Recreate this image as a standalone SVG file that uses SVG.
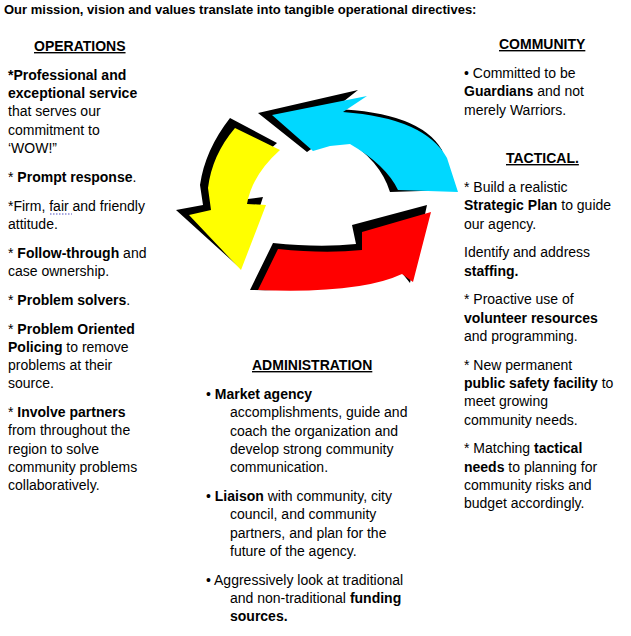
<svg xmlns="http://www.w3.org/2000/svg" width="631" height="636" viewBox="0 0 631 636">
<style>
text{font-family:"Liberation Sans",Arial,sans-serif;font-size:14px;fill:#000}
.h{font-weight:bold;text-decoration:underline}
.b{font-weight:bold}
.sh{fill:#000}
</style>
<rect width="631" height="636" fill="#fff"/>
<text x="4" y="14" class="b" style="font-size:13px">Our mission, vision and values translate into tangible operational directives:</text>
<g id="arrows">
<g id="cyan">
<path class="sh" d="M258,113 L358,90 L334,109 Q420,112 442,150 L452,190 L390,192 Q380,160 345,139 L324,140 L307,152 Z"/>
<path fill="#00d8ff" d="M272,115 L367,96 L343,112 Q425,118 447,158 L458,192 L398,190 Q386,165 350,144 L330,146 L313,151 Z"/>
</g>
<g id="yellow">
<path class="sh" d="M230,118 Q205,150 200,185 L203,205 L176,210 L240,268 L263,197 L240,200 Q245,170 277,143 Z"/>
<path fill="#ff0" d="M235,128 Q212,155 208,188 L211,210 L189,215 L241,270 L266,205 L247,204 Q252,175 280,150 Z"/>
</g>
<g id="red">
<path class="sh" d="M273,243 Q320,248 356,244 L352,225 L427,205 L410,283 L398,268 Q350,292 250,290 Z"/>
<path fill="#f00" d="M278,249 Q325,254 362,250 L362,232 L431,212 L413,282 L402,274 Q360,294 258,290 Z"/>
</g>
</g>
<g id="operations">
<text x="34" y="51" class="h">OPERATIONS</text>
<text x="8" y="80" class="b">*Professional and</text>
<text x="8" y="98" class="b">exceptional service</text>
<text x="8" y="116">that serves our</text>
<text x="8" y="135">commitment to</text>
<text x="8" y="153">‘WOW!”</text>
<text x="8" y="182">* <tspan class="b">Prompt response</tspan>.</text>
<text x="8" y="211">*Firm, fair and friendly</text>
<line x1="50" y1="214" x2="72" y2="214" stroke="#5050c0" stroke-width="1.2" stroke-dasharray="1.5,1.5"/>
<text x="8" y="229">attitude.</text>
<text x="8" y="258">* <tspan class="b">Follow-through</tspan> and</text>
<text x="8" y="276">case ownership.</text>
<text x="8" y="305">* <tspan class="b">Problem solvers</tspan>.</text>
<text x="8" y="334">* <tspan class="b">Problem Oriented</tspan></text>
<text x="8" y="352"><tspan class="b">Policing</tspan> to remove</text>
<text x="8" y="370">problems at their</text>
<text x="8" y="388">source.</text>
<text x="8" y="417">* <tspan class="b">Involve partners</tspan></text>
<text x="8" y="435">from throughout the</text>
<text x="8" y="454">region to solve</text>
<text x="8" y="472">community problems</text>
<text x="8" y="490">collaboratively.</text>
</g>
<g id="community">
<text x="499" y="49" class="h">COMMUNITY</text>
<text x="464" y="78">• Committed to be</text>
<text x="464" y="96"><tspan class="b">Guardians</tspan> and not</text>
<text x="464" y="115">merely Warriors.</text>
</g>
<g id="tactical">
<text x="506" y="163" class="h">TACTICAL.</text>
<text x="464" y="192">* Build a realistic</text>
<text x="464" y="210"><tspan class="b">Strategic Plan</tspan> to guide</text>
<text x="464" y="229">our agency.</text>
<text x="464" y="257">Identify and address</text>
<text x="464" y="276" class="b">staffing.</text>
<text x="464" y="304">* Proactive use of</text>
<text x="464" y="323" class="b">volunteer resources</text>
<text x="464" y="341">and programming.</text>
<text x="464" y="370">* New permanent</text>
<text x="464" y="388"><tspan class="b">public safety facility</tspan> to</text>
<text x="464" y="406">meet growing</text>
<text x="464" y="425">community needs.</text>
<text x="464" y="453">* Matching <tspan class="b">tactical</tspan></text>
<text x="464" y="472"><tspan class="b">needs</tspan> to planning for</text>
<text x="464" y="490">community risks and</text>
<text x="464" y="508">budget accordingly.</text>
</g>
<g id="administration">
<text x="252" y="370" class="h">ADMINISTRATION</text>
<text x="206" y="399">• <tspan class="b">Market agency</tspan></text>
<text x="230" y="417">accomplishments, guide and</text>
<text x="230" y="436">coach the organization and</text>
<text x="230" y="454">develop strong community</text>
<text x="230" y="472">communication.</text>
<text x="206" y="501">• <tspan class="b">Liaison</tspan> with community, city</text>
<text x="230" y="519">council, and community</text>
<text x="230" y="538">partners, and plan for the</text>
<text x="230" y="556">future of the agency.</text>
<text x="206" y="585">• Aggressively look at traditional</text>
<text x="230" y="603">and non-traditional <tspan class="b">funding</tspan></text>
<text x="230" y="621" class="b">sources.</text>
</g>
</svg>
